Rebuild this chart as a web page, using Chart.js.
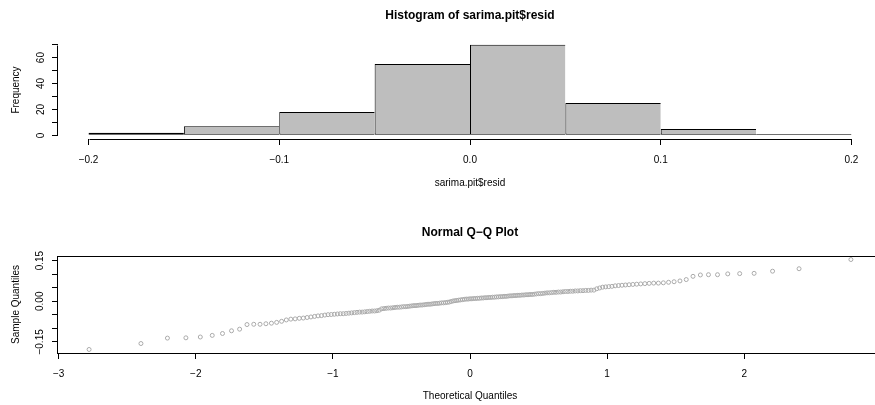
<!DOCTYPE html>
<html><head><meta charset="utf-8">
<script src="https://cdn.jsdelivr.net/npm/chart.js@4"></script>
<style>
html,body{margin:0;padding:0;background:#fff;overflow:hidden;width:875px;height:405px}
#wrap{position:relative;width:875px;height:405px;overflow:hidden;background:#fff}
canvas{position:absolute;left:0}
</style></head><body>
<div id="wrap">
<canvas id="hist" width="890" height="203" style="top:0px"></canvas>
<canvas id="qq" width="890" height="203" style="top:202px"></canvas>
</div>
<script>
// ---------- data ----------
const histBreaks = [-0.2, -0.15, -0.1, -0.05, 0, 0.05, 0.1, 0.15, 0.2];
const histCounts = [2, 7, 18, 55, 70, 25, 5, 1];
const histXTicks = [-0.2, -0.1, 0, 0.1, 0.2];
const histXLabels = ['\u22120.2', '\u22120.1', '0.0', '0.1', '0.2'];
const histYTicks = [0, 10, 20, 30, 40, 50, 60, 70];
const histYLabels = ['0', '', '20', '', '40', '', '60', ''];

// sorted residuals (sample quantiles)
const residSorted = [
 -0.178,-0.156,-0.136,-0.135,-0.132,-0.126,-0.119,-0.109,-0.103,-0.086,
 -0.085,-0.085,-0.083,-0.081,-0.078,-0.074,-0.069,-0.066,-0.065,-0.063,
 -0.062,-0.060,-0.058,-0.056,-0.054,-0.053,-0.051,-0.0495,-0.049,-0.048,
 -0.047,-0.046,-0.046,-0.045,-0.044,-0.043,-0.042,-0.041,-0.040,-0.040,
 -0.039,-0.038,-0.037,-0.036,-0.036,-0.035,-0.033,-0.028,-0.027,-0.026,
 -0.025,-0.025,-0.024,-0.023,-0.022,-0.022,-0.021,-0.020,-0.020,-0.019,
 -0.018,-0.017,-0.016,-0.016,-0.015,-0.014,-0.014,-0.013,-0.012,-0.011,
 -0.011,-0.010,-0.009,-0.008,-0.008,-0.007,-0.006,-0.006,-0.005,-0.004,-0.003,-0.001,
 0.001,0.002,0.003,0.004,0.005,0.006,0.007,0.008,0.008,0.009,
 0.009,0.010,0.010,0.011,0.011,0.012,0.012,0.013,0.013,0.014,
 0.014,0.015,0.015,0.016,0.016,0.017,0.017,0.018,0.018,0.019,
 0.020,0.020,0.021,0.021,0.022,0.022,0.023,0.023,0.024,0.024,
 0.025,0.025,0.026,0.027,0.028,0.028,0.029,0.030,0.031,0.031,
 0.032,0.033,0.033,0.034,0.034,0.035,0.036,0.036,0.037,0.037,
 0.038,0.038,0.039,0.039,0.040,0.040,0.041,0.041,0.046,0.049,
 0.052,0.053,0.054,0.055,0.057,0.058,0.059,0.060,0.061,0.062,
 0.063,0.064,0.065,0.066,0.067,0.067,0.068,0.070,0.072,0.075,
 0.080,0.092,0.097,0.098,0.098,0.101,0.102,0.103,0.111,0.120,0.154
];
const qqXTicks = [-3, -2, -1, 0, 1, 2];
const qqXLabels = ['\u22123', '\u22122', '\u22121', '0', '1', '2'];
const qqYTicks = [-0.15, -0.10, -0.05, 0, 0.05, 0.10, 0.15];
const qqYLabels = ['\u22120.15', '', '', '0.00', '', '', '0.15'];

// ---------- helpers ----------
function qnorm(p){
 const a=[-3.969683028665376e+01,2.209460984245205e+02,-2.759285104469687e+02,1.383577518672690e+02,-3.066479806614716e+01,2.506628277459239e+00];
 const b=[-5.447609879822406e+01,1.615858368580409e+02,-1.556989798598866e+02,6.680131188771972e+01,-1.328068155288572e+01];
 const c=[-7.784894002430293e-03,-3.223964580411365e-01,-2.400758277161838e+00,-2.549732539343734e+00,4.374664141464968e+00,2.938163982698783e+00];
 const d=[7.784695709041462e-03,3.224671290700398e-01,2.445134137142996e+00,3.754408661907416e+00];
 const pl=0.02425, ph=1-pl; let q,r;
 if(p<pl){q=Math.sqrt(-2*Math.log(p));return (((((c[0]*q+c[1])*q+c[2])*q+c[3])*q+c[4])*q+c[5])/((((d[0]*q+d[1])*q+d[2])*q+d[3])*q+1);}
 if(p>ph){q=Math.sqrt(-2*Math.log(1-p));return -(((((c[0]*q+c[1])*q+c[2])*q+c[3])*q+c[4])*q+c[5])/((((d[0]*q+d[1])*q+d[2])*q+d[3])*q+1);}
 q=p-0.5;r=q*q;return (((((a[0]*r+a[1])*r+a[2])*r+a[3])*r+a[4])*r+a[5])*q/(((((b[0]*r+b[1])*r+b[2])*r+b[3])*r+b[4])*r+1);
}
const n = residSorted.length;
const qqPoints = residSorted.map((v,i)=>({x: qnorm((i+0.5)/n), y: v}));
const histData = histCounts.map((c,i)=>({x:(histBreaks[i]+histBreaks[i+1])/2, y:c}));

Chart.defaults.font.family = "'Liberation Sans', Arial, Helvetica, sans-serif";
Chart.defaults.font.size = 10;
Chart.defaults.color = '#000';
Chart.defaults.animation = false;

const FONT_AXIS = {size:10};
const FONT_MAIN = {size:12, weight:'bold'};

function tickSetter(vals){ return function(scale){ scale.ticks = vals.map(v=>({value:v})); }; }

const histAxes = {
  id:'histAxes',
  afterDraw(chart){
    const {ctx, chartArea:a, scales:{x,y}} = chart;
    ctx.save(); ctx.strokeStyle='#000'; ctx.lineWidth=1;
    ctx.beginPath();
    const lx = Math.round(a.left) - 0.5;
    ctx.moveTo(lx, Math.round(y.getPixelForValue(histYTicks[0]))+0.5);
    ctx.lineTo(lx, Math.round(y.getPixelForValue(histYTicks[histYTicks.length-1]))+0.5);
    const by = Math.round(a.bottom) + 0.5;
    ctx.moveTo(Math.round(x.getPixelForValue(histXTicks[0]))+0.5, by);
    ctx.lineTo(Math.round(x.getPixelForValue(histXTicks[histXTicks.length-1]))+0.5, by);
    ctx.stroke(); ctx.restore();
  }
};
const qqBox = {
  id:'qqBox',
  afterDraw(chart){
    const {ctx, chartArea:a} = chart;
    ctx.save(); ctx.strokeStyle='#000'; ctx.lineWidth=1;
    ctx.strokeRect(Math.round(a.left)-0.5, Math.round(a.top)+0.5, Math.round(a.right-a.left), Math.round(a.bottom-a.top));
    ctx.restore();
  }
};

const gridTicks = {display:true, drawOnChartArea:false, drawTicks:true, tickLength:6, color:'#000', lineWidth:1, offset:false};

new Chart(document.getElementById('hist'), {
  type:'bar',
  data:{datasets:[{data:histData, backgroundColor:'#bebebe', borderColor:'#000',
    borderWidth:(ctx)=>({top:1,bottom:1,left:1,right: ctx.dataIndex===histCounts.length-1?1:0}),
    borderSkipped:false, categoryPercentage:1, barPercentage:1, inflateAmount:0}]},
  options:{
    responsive:false, animation:false,
    layout:{padding:{left:0,right:8,top:0,bottom:0}},
    plugins:{legend:{display:false}, tooltip:{enabled:false},
      title:{display:true, text:'Histogram of sarima.pit$resid', font:FONT_MAIN, color:'#000', padding:{top:8,bottom:18.6}, fullSize:false}},
    scales:{
      x:{type:'linear', min:-0.216, max:0.216, offset:false,
        afterBuildTicks:tickSetter(histXTicks),
        ticks:{autoSkip:false, maxRotation:0, padding:9, font:FONT_AXIS, color:'#000', callback:(v,i)=>histXLabels[i]},
        grid:gridTicks, border:{display:false},
        title:{display:true, text:'sarima.pit$resid', font:FONT_AXIS, color:'#000', padding:{top:0,bottom:14}},
        afterFit:(s)=>{s.height=64;}
      },
      y:{type:'linear', min:-2.8, max:72.8,
        afterBuildTicks:tickSetter(histYTicks),
        ticks:{autoSkip:false, minRotation:90, maxRotation:90, crossAlign:'center', padding:5.4, font:FONT_AXIS, color:'#000', callback:(v,i)=>histYLabels[i]},
        grid:gridTicks, border:{display:false},
        title:{display:true, text:'Frequency', font:FONT_AXIS, color:'#000', padding:{top:10,bottom:0}},
        afterFit:(s)=>{s.width=58;}
      }
    }
  },
  plugins:[histAxes]
});

new Chart(document.getElementById('qq'), {
  type:'scatter',
  data:{datasets:[{data:qqPoints, pointStyle:'circle', pointRadius:2, pointBorderWidth:1,
    borderColor:'#aaaaaa', backgroundColor:'rgba(0,0,0,0)', showLine:false}]},
  options:{
    responsive:false, animation:false,
    layout:{padding:{left:0,right:8,top:0,bottom:0}},
    plugins:{legend:{display:false}, tooltip:{enabled:false},
      title:{display:true, text:'Normal Q\u2212Q Plot', font:FONT_MAIN, color:'#000', padding:{top:23,bottom:16.6}, fullSize:false}},
    scales:{
      x:{type:'linear', min:-3.005, max:3.005,
        afterBuildTicks:tickSetter(qqXTicks),
        ticks:{autoSkip:false, maxRotation:0, padding:9, font:FONT_AXIS, color:'#000', callback:(v,i)=>qqXLabels[i]},
        grid:gridTicks, border:{display:false},
        title:{display:true, text:'Theoretical Quantiles', font:FONT_AXIS, color:'#000', padding:{top:0,bottom:3}},
        afterFit:(s)=>{s.height=52;}
      },
      y:{type:'linear', min:-0.191, max:0.167,
        afterBuildTicks:tickSetter(qqYTicks),
        ticks:{autoSkip:false, minRotation:90, maxRotation:90, crossAlign:'center', padding:-1, font:FONT_AXIS, color:'#000', callback:(v,i)=>qqYLabels[i]},
        grid:gridTicks, border:{display:false},
        title:{display:true, text:'Sample Quantiles', font:FONT_AXIS, color:'#000', padding:{top:10,bottom:0}},
        afterFit:(s)=>{s.width=58;}
      }
    }
  },
  plugins:[qqBox]
});
</script>
</body></html>
